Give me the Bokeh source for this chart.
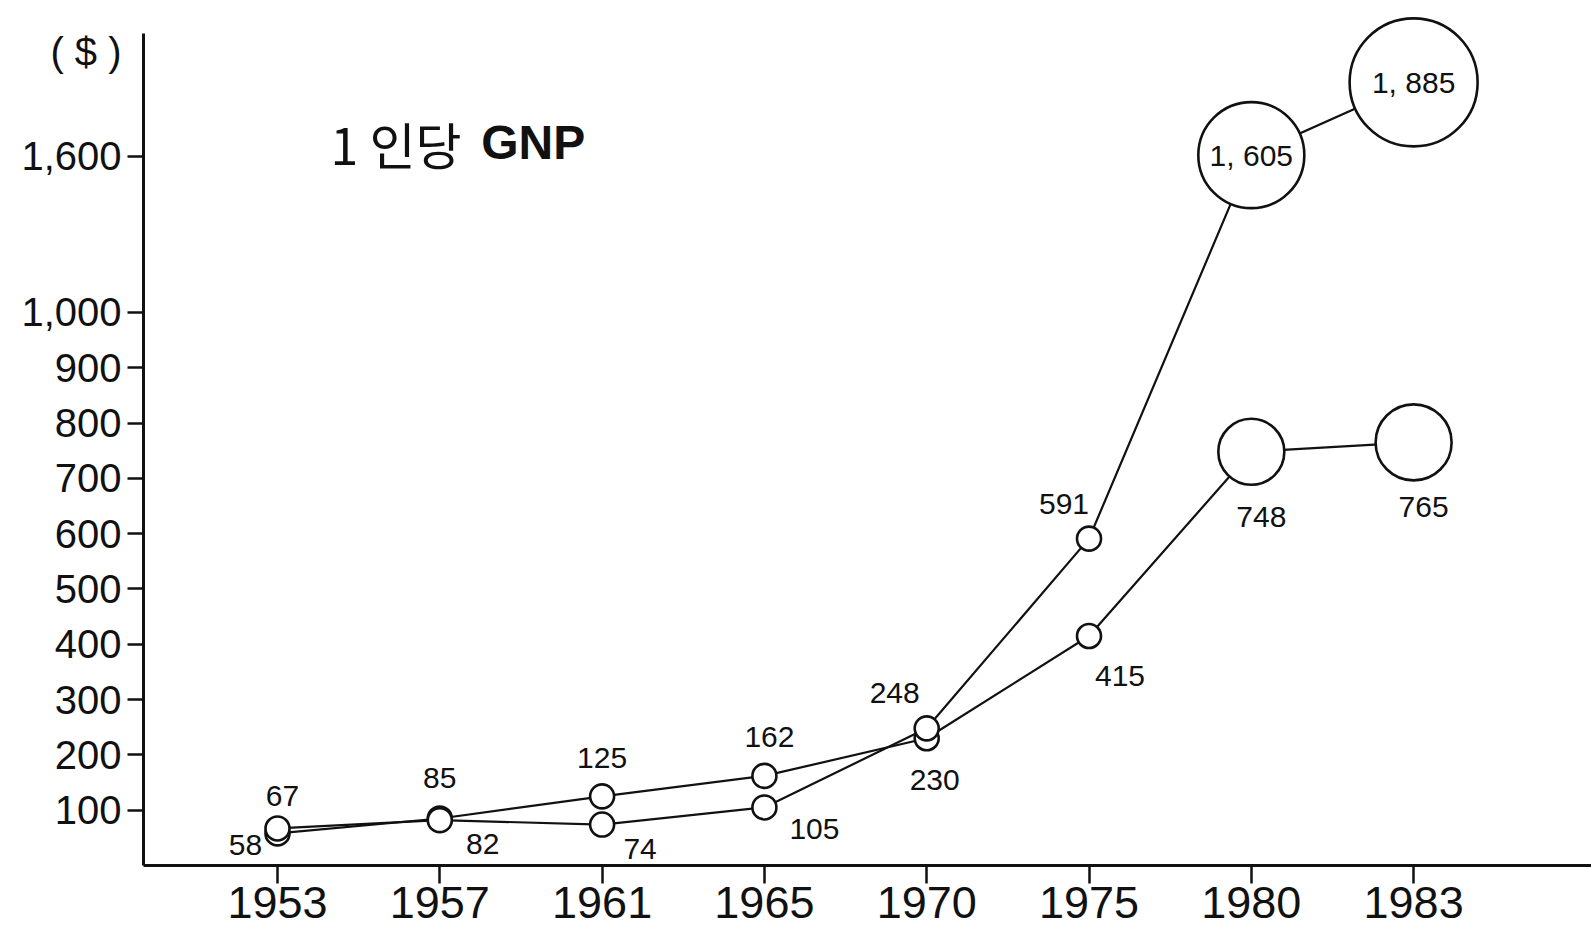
from bokeh.plotting import figure
from bokeh.models import Range1d, FixedTicker, Label, ColumnDataSource
from bokeh.embed import file_html
from bokeh.resources import INLINE
from bokeh.core.properties import value

# ---------------- data ----------------
years = ["1953", "1957", "1961", "1965", "1970", "1975", "1980", "1983"]
south = [67, 82, 74, 105, 248, 591, 1605, 1885]
north = [58, 85, 125, 162, 230, 415, 748, 765]
south_labels = ["67", "82", "74", "105", "248", "591", "1, 605", "1, 885"]
north_labels = ["58", "85", "125", "162", "230", "415", "748", "765"]
y_ticks = [100, 200, 300, 400, 500, 600, 700, 800, 900, 1000, 1600]
y_tick_labels = ["100", "200", "300", "400", "500", "600", "700", "800", "900", "1,000", "1,600"]
title_num = "1 인당"
title_word = "GNP"
unit_text = "( $ )"

# ---------------- styles / layout ----------------
south_sizes = [24, 24, 24, 24, 24, 24, 106, 128]
north_sizes = [24, 24, 24, 24, 24, 24, 66, 76]
south_dx = [5, 43, 38, 50, -32, -25, 0, 0]
south_dy = [-32, 24, 24, 22, -35, -35, 0, 0]
north_dx = [-32, 0, 0, 5, 8, 31, 10, 10]
north_dy = [12, -40, -38, -39, 42, 40, 65, 65]

BREAK = 1000
K = 0.47  # compression above the axis break
UNIT_POS = 1470  # vertical position of the "( $ )" caption (display units)


def disp(v):
    return v if v <= BREAK else BREAK + (v - BREAK) * K


xi = list(range(len(years)))
sd = [disp(v) for v in south]
nd = [disp(v) for v in north]
tick_pos = [int(round(disp(t))) for t in y_ticks]

W, H = 1591, 943
p = figure(width=W, height=H, output_backend="svg", toolbar_location=None,
           x_range=Range1d(-0.8256, 8.096), y_range=Range1d(0, 1564),
           min_border_left=143, min_border_right=0, min_border_top=0,
           min_border_bottom=78, background_fill_color="white",
           border_fill_color="white")
p.outline_line_color = None
p.xgrid.visible = False
p.ygrid.visible = False

INK = "#111111"
NUM_FONT = "Liberation Sans"

src_s = ColumnDataSource(dict(x=xi, y=sd, size=south_sizes, lab=south_labels,
                              dx=south_dx, dy=south_dy))
src_n = ColumnDataSource(dict(x=xi, y=nd, size=north_sizes, lab=north_labels,
                              dx=north_dx, dy=north_dy))

p.line("x", "y", source=src_s, line_color=INK, line_width=2.2)
p.line("x", "y", source=src_n, line_color=INK, line_width=2.2)
p.scatter("x", "y", source=src_n, size="size", fill_color="white",
          line_color=INK, line_width=2.6)
p.scatter("x", "y", source=src_s, size="size", fill_color="white",
          line_color=INK, line_width=2.6)

for src in (src_s, src_n):
    p.text("x", "y", text="lab", source=src, x_offset="dx", y_offset="dy",
           text_font=value(NUM_FONT), text_font_size="30px",
           text_color=INK, text_align="center", text_baseline="middle")

# x axis
xa = p.xaxis[0]
xa.ticker = FixedTicker(ticks=xi)
xa.major_label_overrides = {i: y for i, y in zip(xi, years)}
xa.major_tick_in = 0
xa.major_tick_out = 18
xa.minor_tick_line_color = None
xa.axis_line_width = 3
xa.axis_line_color = INK
xa.major_tick_line_width = 2.5
xa.major_tick_line_color = INK
xa.major_label_text_font = NUM_FONT
xa.major_label_text_font_size = "45px"
xa.major_label_text_color = INK
xa.major_label_standoff = 3

# y axis: labels from major ticks (incl. the unit caption), marks from minor ticks
ya = p.yaxis[0]
ya.ticker = FixedTicker(ticks=tick_pos + [UNIT_POS], minor_ticks=tick_pos)
overrides = {t: l for t, l in zip(tick_pos, y_tick_labels)}
overrides[UNIT_POS] = unit_text
ya.major_label_overrides = overrides
ya.bounds = (0, 1504)
ya.major_tick_in = 0
ya.major_tick_out = 16
ya.major_tick_line_color = None
ya.minor_tick_in = 0
ya.minor_tick_out = 16
ya.minor_tick_line_width = 2.5
ya.minor_tick_line_color = INK
ya.axis_line_width = 3
ya.axis_line_color = INK
ya.major_label_text_font = NUM_FONT
ya.major_label_text_font_size = "40px"
ya.major_label_text_color = INK
ya.major_label_standoff = 6

p.add_layout(Label(x=0.327, y=1307, text=title_num, text_font="Noto Sans CJK KR",
                   text_font_size="50px", text_color=INK, text_baseline="middle",
                   text_align="left"))
p.add_layout(Label(x=1.255, y=1307, text=title_word, text_font="Liberation Sans",
                   text_font_size="48px", text_font_style="bold", text_color=INK,
                   text_baseline="middle", text_align="left"))

open("out.html", "w").write(file_html(p, INLINE))
